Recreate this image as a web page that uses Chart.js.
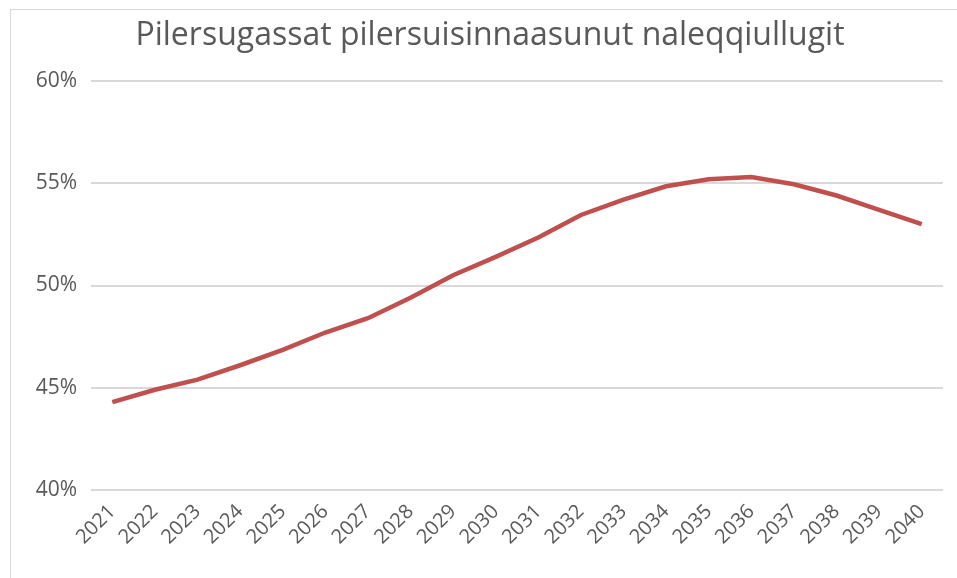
<!DOCTYPE html>
<html>
<head>
<meta charset="utf-8">
<script src="https://cdn.jsdelivr.net/npm/chart.js@4"></script>
<style>
  html, body { margin: 0; padding: 0; background: #fff; }
  #wrap { position: relative; width: 957px; height: 578px; }
</style>
</head>
<body>
<div id="wrap"><canvas id="c" width="957" height="578"></canvas></div>
<script>
const titleText = "Pilersugassat pilersuisinnaasunut naleqqiullugit";
const years = ["2021","2022","2023","2024","2025","2026","2027","2028","2029","2030",
               "2031","2032","2033","2034","2035","2036","2037","2038","2039","2040"];
const shareValues = [44.3, 44.9, 45.4, 46.1, 46.85, 47.7, 48.4, 49.4, 50.5, 51.4,
                     52.35, 53.45, 54.2, 54.85, 55.2, 55.3, 54.95, 54.4, 53.7, 53.0];
const yTicks = [40, 45, 50, 55, 60];

const textColor = "#595959";
const gridColor = "#d9d9d9";

const framePlugin = {
  id: "frameAndTitle",
  beforeDraw(chart) {
    const ctx = chart.ctx;
    ctx.save();
    ctx.fillStyle = "#fff";
    ctx.fillRect(0, 0, chart.width, chart.height);
    ctx.strokeStyle = gridColor;
    ctx.lineWidth = 1;
    ctx.strokeRect(10.5, 9.5, 2000, 2000);
    ctx.fillStyle = textColor;
    ctx.font = "32px 'Open Sans'";
    ctx.textAlign = "center";
    ctx.textBaseline = "alphabetic";
    ctx.fillText(titleText, 490, 45);
    ctx.restore();
  }
};

new Chart(document.getElementById("c"), {
  type: "line",
  data: {
    labels: years,
    datasets: [{
      data: shareValues,
      borderColor: "#c0504d",
      borderWidth: 4.5,
      pointRadius: 0,
      tension: 0,
      fill: false
    }]
  },
  options: {
    responsive: false,
    animation: false,
    devicePixelRatio: 1,
    layout: { padding: { left: 10, right: 14, top: 81, bottom: 0 } },
    plugins: {
      legend: { display: false },
      tooltip: { enabled: false },
      title: { display: false }
    },
    scales: {
      x: {
        offset: true,
        grid: { display: false },
        border: { display: false },
        ticks: {
          color: textColor,
          font: { family: "'Open Sans'", size: 20 },
          maxRotation: 45,
          minRotation: 45,
          autoSkip: false,
          padding: 2
        },
        afterFit(scale) { scale.height = 88; }
      },
      y: {
        min: 40,
        max: 60,
        afterBuildTicks(scale) { scale.ticks = yTicks.map(v => ({ value: v })); },
        grid: { color: gridColor, lineWidth: 2, drawTicks: false },
        border: { display: false },
        ticks: {
          color: textColor,
          font: { family: "'Open Sans'", size: 21 },
          padding: 14,
          callback: v => v + "%"
        },
        afterFit(scale) { scale.width = 81; }
      }
    }
  },
  plugins: [framePlugin]
});
</script>
</body>
</html>
